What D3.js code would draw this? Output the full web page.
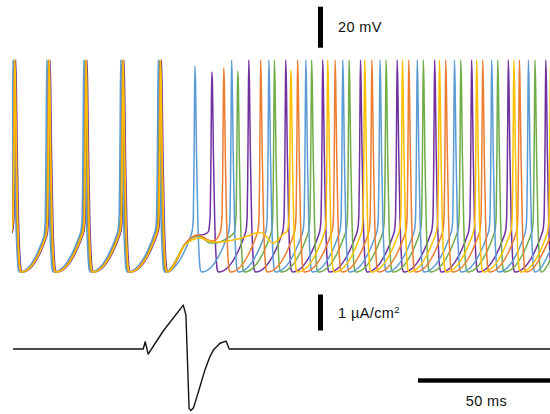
<!DOCTYPE html>
<html><head><meta charset="utf-8">
<script src="https://cdn.jsdelivr.net/npm/d3@7"></script>
<style>body{margin:0;background:#fff}svg{display:block}</style>
</head><body>
<svg id="c" width="550" height="414"></svg>
<script>
// ---------- data (times in ms, voltage in mV, current in µA/cm²) ----------
const neurons = ["purple", "green", "blue", "orange", "yellow"];
const colors  = ["#7030A0", "#70AD47", "#5B9BD5", "#ED7D31", "#FFC000"];

const purpleSpikes = [1.0, 14.0, 28.0, 42.0, 56.2, 75.3, 89.3, 103.3, 117.3, 131.6, 145.5, 159.7, 173.7, 187.6, 201.8];
const greenSpikes  = [0.2, 13.2, 27.2, 41.2, 55.4, 85.1, 99.0, 113.1, 127.3, 141.3, 155.4, 169.6, 183.6, 197.7];
const blueSpikes   = [0.0, 12.8, 26.8, 40.8, 55.0, 68.9, 82.8, 96.9, 110.9, 124.9, 139.0, 153.1, 167.2, 181.3, 195.2];
const orangeSpikes = [0.5, 13.5, 27.5, 41.5, 55.7, 79.8, 93.8, 107.8, 122.0, 135.9, 149.9, 163.9, 177.9, 191.8];
const yellowSpikes = [0.7, 13.7, 27.7, 41.7, 55.9, 105.2, 119.2, 133.2, 147.5, 161.5, 175.6, 189.7, 203.6];

// subthreshold responses right after the stimulus (before first desynchronised spike)
const purpleSub = [[65.5,-55.9],[68.9,-52.4],[70.8,-52.0],[72.7,-51.5],[74.0,-50.3]];
const greenSub  = [[65.5,-55.9],[67.8,-53.4],[70.1,-52.4],[72.3,-53.9],[74.6,-55.9],[76.9,-55.9],[79.2,-54.9],[81.4,-53.4],[83.8,-50.5]];
const blueSub   = null;
const orangeSub = [[65.5,-55.9],[67.4,-53.4],[70.1,-52.0],[72.0,-52.9],[73.9,-54.4],[75.8,-54.9],[77.7,-52.9],[78.5,-50.5]];
const yellowSub = [[65.5,-56.3],[68.6,-53.9],[70.8,-53.4],[73.1,-54.4],[75.8,-55.4],[78.4,-55.4],[81.4,-54.9],[85.2,-53.9],[89.0,-52.4],[92.0,-51.0],[93.6,-50.7],[95.5,-52.0],[97.3,-54.9],[98.5,-55.9],[100.4,-54.4],[102.3,-51.5],[103.9,-50.0]];

const firstStimPeak = [27.6, 28.0, 30.5, 29.5, 28.5]; // peak of first spike after stimulus
const spikePeak = 33.4, restTrough = -70, rampSlope = 1.85;
// spike waveform: [ms relative to peak, mV]
const downstroke = [[0.25, 22], [0.6, -12], [1.1, -45], [1.6, -62], [2.1, -69], [2.6, -70]];
const upstroke   = [[-0.9, 3], [-0.6, 9]];          // mV above knee
const upstrokeAbs = [[-0.4, -25], [-0.2, 5]];

// stimulus current
const stimT = [0, 49.3, 50.1, 51.2, 56.9, 64.5, 65.5, 66.7, 67.4, 68.3, 68.9, 70.8, 72.7, 74.6, 75.9, 78.4, 80.7, 81.9, 203.4];
const stimI = [0, 0, 0.20, -0.14, 0.50, 1.22, 0.94, -1.65, -1.71, -1.64, -1.51, -1.05, -0.58, -0.21, -0.03, 0.16, 0.22, 0, 0];

const tEnd = 203.4;
const allSpikes = [purpleSpikes, greenSpikes, blueSpikes, orangeSpikes, yellowSpikes];
const allSubs = [purpleSub, greenSub, blueSub, orangeSub, yellowSub];

// ---------- scales ----------
const svg = d3.select("#c");
const x = d3.scaleLinear().domain([0, tEnd]).range([13, 550]);
const yV = d3.scaleLinear().domain([-70, 30]).range([272, 67]);
const yI = d3.scaleLinear().domain([0, 1]).range([349, 313]);

svg.append("defs").append("clipPath").attr("id", "clip")
  .append("rect").attr("x", 12).attr("y", 0).attr("width", 538).attr("height", 414);

function buildTrace(spikes, sub, stimPeak, stimIdx) {
  const pts = [];
  spikes.forEach((s, i) => {
    const pk = i === stimIdx ? stimPeak : spikePeak;
    let knee;
    if (i === 0) { knee = -51; pts.push([s - 1.4, knee]); }
    else if (sub && i === stimIdx) { sub.forEach(p => pts.push(p)); knee = sub[sub.length - 1][1]; }
    else {
      const prev = spikes[i - 1];
      knee = restTrough + rampSlope * ((s - 1.4) - (prev + 2.6));
      pts.push([s - 1.4, knee]);
    }
    upstroke.forEach(([dt, dv]) => pts.push([s + dt, knee + dv]));
    upstrokeAbs.forEach(([dt, v]) => pts.push([s + dt, v]));
    pts.push([s, pk]);
    downstroke.forEach(([dt, v]) => pts.push([s + dt, v]));
  });
  const last = spikes[spikes.length - 1];
  if (last + 2.6 < tEnd) pts.push([tEnd, restTrough + rampSlope * (tEnd - last - 2.6)]);
  return pts;
}

const line = d3.line().x(d => x(d[0])).y(d => yV(d[1])).curve(d3.curveMonotoneX);
const g = svg.append("g").attr("clip-path", "url(#clip)");
neurons.forEach((n, k) => {
  g.append("path")
    .datum(buildTrace(allSpikes[k], allSubs[k], firstStimPeak[k], 5))
    .attr("d", line)
    .attr("fill", "none")
    .attr("stroke", colors[k])
    .attr("stroke-width", 1.5)
    .attr("stroke-linejoin", "round");
});

// stimulus
const stimLine = d3.line().x((d, i) => x(stimT[i])).y(d => yI(d));
svg.append("path").datum(stimI).attr("d", stimLine)
  .attr("fill", "none").attr("stroke", "#111").attr("stroke-width", 1.4).attr("stroke-linejoin", "round");

// scale bars
svg.append("rect").attr("x", 318).attr("width", 5)
  .attr("y", 6.7).attr("height", yV(-70) - yV(-50)).attr("fill", "#000");
svg.append("rect").attr("x", 318).attr("width", 5)
  .attr("y", 294.5).attr("height", yI(0) - yI(1)).attr("fill", "#000");
svg.append("rect").attr("x", x(tEnd - 50)).attr("width", x(tEnd) - x(tEnd - 50))
  .attr("y", 378.3).attr("height", 4.4).attr("fill", "#000");

const font = "Arial, 'Liberation Sans', sans-serif";
svg.append("text").attr("x", 338).attr("y", 32).attr("font-family", font).attr("font-size", 14.5)
  .attr("letter-spacing", 0.4).attr("fill", "#111").text("20 mV");
const t2 = svg.append("text").attr("x", 338).attr("y", 318).attr("font-family", font).attr("font-size", 14.5)
  .attr("letter-spacing", 0.4).attr("fill", "#111");
t2.append("tspan").text("1 µA/cm");
t2.append("tspan").attr("font-size", 9.5).attr("dy", -5).text("2");
svg.append("text").attr("x", 486.5).attr("y", 406).attr("text-anchor", "middle").attr("font-family", font)
  .attr("font-size", 14.5).attr("letter-spacing", 0.4).attr("fill", "#111").text("50 ms");
</script>
</body></html>
